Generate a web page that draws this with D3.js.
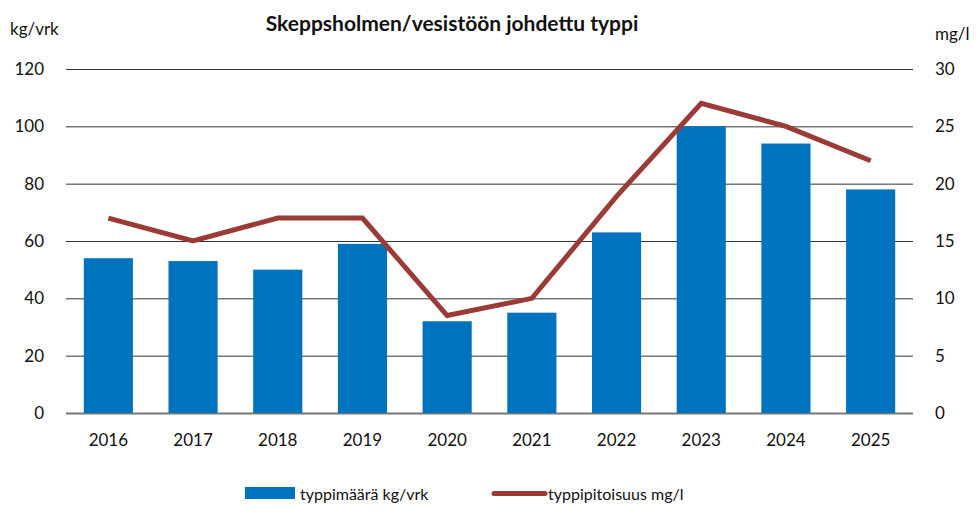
<!DOCTYPE html>
<html><head><meta charset="utf-8">
<script src="https://cdn.jsdelivr.net/npm/d3@7"></script>
<style>body{margin:0;background:#fff}svg{display:block}text{font-family:Lato,"Open Sans",sans-serif;fill:#111}</style>
</head><body><svg id="c" width="980" height="510"></svg>
<script>
const years = ["2016","2017","2018","2019","2020","2021","2022","2023","2024","2025"];
const amount = [54,53,50,59,32,35,63,100,94,78];
const concentration = [17,15,17,17,8.5,10,18.9,27,25,22];
const leftTicks = [0,20,40,60,80,100,120];
const rightTicks = [0,5,10,15,20,25,30];

const svg = d3.select("#c");
const L=66,R=913,T=69,B=413;
const x = d3.scaleBand().domain(years).range([L,R]).paddingInner(0.42).paddingOuter(0.21);
const yL = d3.scaleLinear().domain([0,120]).range([B,T]);
const yR = d3.scaleLinear().domain([0,30]).range([B,T]);

svg.append("g").selectAll("line").data(leftTicks).join("line")
 .attr("x1",L).attr("x2",R).attr("y1",d=>yL(d)+0.5).attr("y2",d=>yL(d)+0.5)
 .attr("stroke",d=>d===0?"#777":"#333").attr("stroke-width",d=>d===0?2:1);

svg.append("g").selectAll("rect").data(years).join("rect")
 .attr("x",d=>x(d)).attr("width",x.bandwidth())
 .attr("y",(d,i)=>yL(amount[i])).attr("height",(d,i)=>B-yL(amount[i]))
 .attr("fill","#0073bf");

const line = d3.line().x((d,i)=>x(years[i])+x.bandwidth()/2).y(d=>yR(d));
svg.append("path").datum(concentration).attr("d",line).attr("fill","none")
 .attr("stroke","#9a3b35").attr("stroke-width",5).attr("stroke-linejoin","miter");

const gl = svg.append("g").attr("transform",`translate(${L-22},0)`)
 .call(d3.axisLeft(yL).tickValues(leftTicks).tickSize(0).tickPadding(0));
const gr = svg.append("g").attr("transform",`translate(${R+22},0)`)
 .call(d3.axisRight(yR).tickValues(rightTicks).tickSize(0).tickPadding(0));
const gx = svg.append("g").attr("transform",`translate(0,${B+18})`)
 .call(d3.axisBottom(x).tickSize(0).tickPadding(0));
[gl,gr,gx].forEach(g=>{g.select(".domain").remove();g.selectAll("text").attr("font-size",17).style("font-family","Lato, 'Open Sans', sans-serif").attr("fill","#111");});
gx.selectAll("text").attr("dy","0.9em");

svg.append("text").attr("x",452).attr("y",31).attr("text-anchor","middle")
 .attr("font-size",21).attr("font-weight","bold").text("Skeppsholmen/vesistöön johdettu typpi");
svg.append("text").attr("x",10).attr("y",35).attr("font-size",17).text("kg/vrk");
svg.append("text").attr("x",935).attr("y",40).attr("font-size",17).text("mg/l");

const lg = svg.append("g");
lg.append("rect").attr("x",245).attr("y",487).attr("width",50).attr("height",12).attr("fill","#0073bf");
lg.append("text").attr("x",300).attr("y",500).attr("font-size",16).text("typpimäärä kg/vrk");
lg.append("line").attr("x1",494).attr("x2",545).attr("y1",493.5).attr("y2",493.5)
 .attr("stroke","#9a3b35").attr("stroke-width",5).attr("stroke-linecap","round");
lg.append("text").attr("x",548).attr("y",500).attr("font-size",16).text("typpipitoisuus mg/l");
</script></body></html>
